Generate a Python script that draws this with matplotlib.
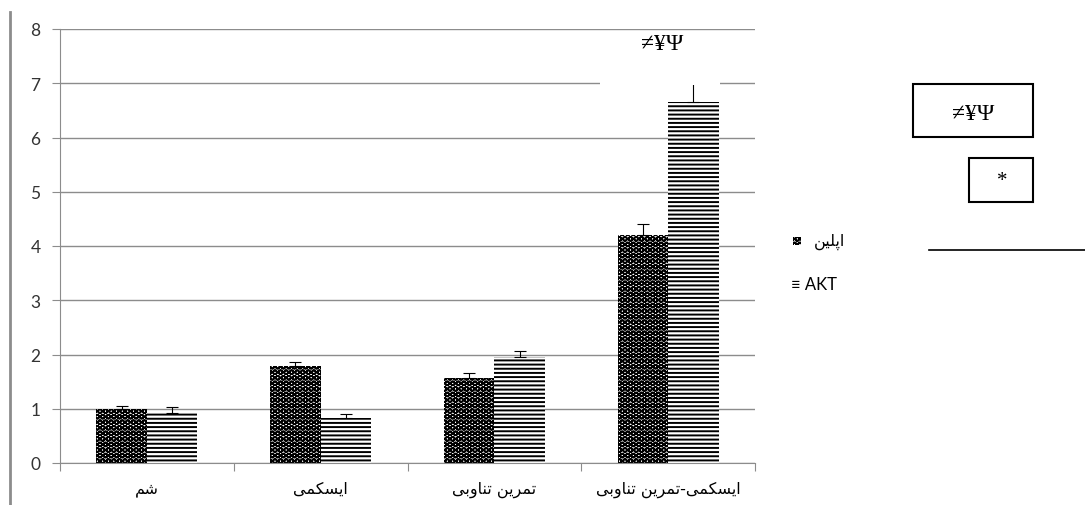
import numpy as np
import matplotlib
matplotlib.use("Agg")
import matplotlib.pyplot as plt
from matplotlib.patches import Rectangle
from matplotlib.lines import Line2D

plt.rcParams['font.family'] = ['Lato', 'DejaVu Sans']

# گروه‌ها (شکل‌دهی دستی حروف، ترتیب نمایشی)
sham = "\uFEE2\uFEB7"
ischemia = "\uFEF0\uFEE4\uFEDC\uFEB4\uFEF3\uFE8D"
tamrin = "\uFEE6\uFEF3\uFEAE\uFEE4\uFE97"
tanavobi = "\uFEF0\uFE91\uFEED\uFE8E\uFEE8\uFE97"
categories = [sham, ischemia, tanavobi + " " + tamrin,
              tanavobi + " " + tamrin + "-" + ischemia]
apelin_label = "\uFEE6\uFEF4\uFEE0\uFB58\uFE8D"
akt_label = "AKT"

apelin = [1.0, 1.79, 1.57, 4.2]
apelin_err = [0.05, 0.08, 0.09, 0.21]
akt = [0.93, 0.83, 1.95, 6.65]
akt_err = [0.11, 0.08, 0.12, 0.35]

sig_mark = "\u2260\u00a5\u03a8"

fig = plt.figure(figsize=(10.85, 5.06), dpi=100)
ax = fig.add_axes([60 / 1085, 42 / 506, 695 / 1085, 434 / 506])

x = np.arange(len(categories))
w = 0.29
with plt.rc_context({'hatch.linewidth': 1.25}):
    ax.bar(x - w / 2, apelin, w, color="white", edgecolor="black",
           linewidth=0, hatch="OOO", zorder=2)
    key = Rectangle((793 / 1085, (506 - 246) / 506), 8 / 1085, 8 / 506,
                    transform=fig.transFigure, facecolor="white",
                    edgecolor="black", linewidth=0, hatch="OOO")
with plt.rc_context({'hatch.linewidth': 1.4}):
    ax.bar(x + w / 2, akt, w, color="white", edgecolor="black",
           linewidth=0, hatch="----", zorder=2)
ax.errorbar(x - w / 2, apelin, yerr=[np.zeros(4), apelin_err], fmt="none",
            ecolor="black", elinewidth=0.8, capsize=4, capthick=0.8, zorder=3)
ax.errorbar(x + w / 2, akt, yerr=[np.zeros(4), akt_err], fmt="none",
            ecolor="black", elinewidth=0.8, capsize=4, capthick=0.8, zorder=3)

ax.set_xlim(-0.5, 3.5)
ax.set_ylim(0, 8)
ax.set_yticks(range(0, 9))
ax.yaxis.grid(True, color="#8c8c8c", linewidth=1)
ax.set_axisbelow(True)
ax.set_xticks(np.arange(-0.5, 4, 1))
ax.set_xticklabels([])
ax.set_xticks(x, minor=True)
ax.set_xticklabels(categories, minor=True, fontsize=11.5,
                   family=['DejaVu Sans'])
ax.tick_params(axis="x", which="minor", length=0, pad=13)
ax.tick_params(axis="x", which="major", length=6, color="#8c8c8c")
ax.tick_params(axis="y", length=6, color="#8c8c8c", labelsize=12.5,
               labelcolor="#333333", pad=8)
for s in ["top", "right"]:
    ax.spines[s].set_visible(False)
for s in ["left", "bottom"]:
    ax.spines[s].set_color("#8c8c8c")

# جعبه سفید پشت نشانه معنی‌داری
ax.add_patch(Rectangle((0.777, 0.872), 0.173, 0.124, transform=ax.transAxes,
                       facecolor="white", edgecolor="none", zorder=3.5))
ax.text(0.866, 0.966, sig_mark, transform=ax.transAxes, ha="center",
        va="center", fontsize=17, family="Liberation Serif", zorder=4)

# راهنما
fig.patches.append(key)
fig.text(814 / 1085, (506 - 242) / 506, apelin_label, fontsize=11.5,
         va="center", ha="left", family="DejaVu Sans")
fig.text(791 / 1085, (506 - 285) / 506, "\u2261 " + akt_label, fontsize=12,
         va="center", ha="left")

# کادرهای نشانه‌ها
fig.patches.append(Rectangle((913 / 1085, (506 - 138) / 506), 120 / 1085, 53 / 506,
                             transform=fig.transFigure, facecolor="white",
                             edgecolor="black", linewidth=1.5))
fig.text(973 / 1085, (506 - 114) / 506, sig_mark, fontsize=17, ha="center",
         va="center", family="Liberation Serif")
fig.patches.append(Rectangle((969 / 1085, (506 - 203) / 506), 64 / 1085, 44 / 506,
                             transform=fig.transFigure, facecolor="white",
                             edgecolor="black", linewidth=1.5))
fig.text(1002 / 1085, (506 - 181) / 506, "*", fontsize=15, ha="center",
         va="center", family="Liberation Serif")
fig.lines.append(Line2D([929 / 1085, 1], [(506 - 251) / 506] * 2,
                        transform=fig.transFigure, color="black", linewidth=1.2))
fig.lines.append(Line2D([10 / 1085] * 2, [0, (506 - 13) / 506],
                        transform=fig.transFigure, color="#8c8c8c", linewidth=2))

fig.savefig("out.png", dpi=100)
